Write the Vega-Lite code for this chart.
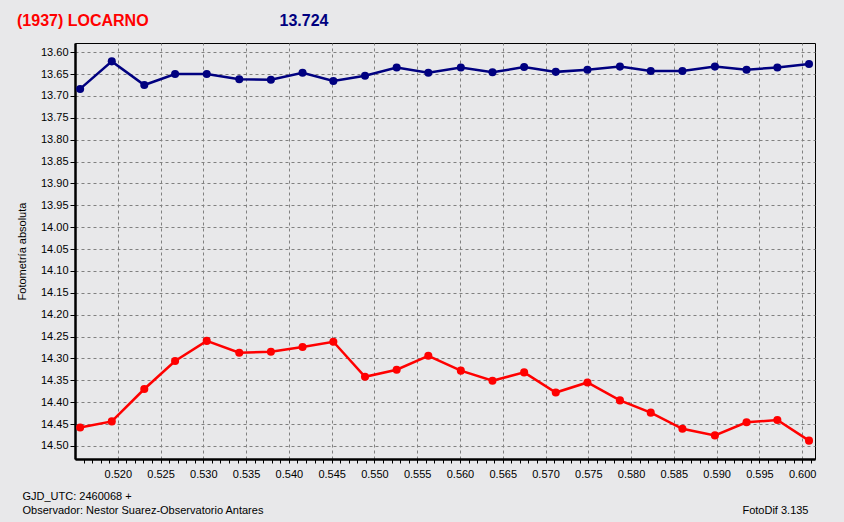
{
  "$schema": "https://vega.github.io/schema/vega-lite/v6.json",
  "autosize": "none",
  "width": 740,
  "height": 416,
  "padding": {"left": 75, "top": 43, "right": 29, "bottom": 63},
  "background": "#e8e8ea",
  "config": {
    "view": {"stroke": "#000000", "strokeWidth": 1, "fill": "#e8e8ea"},
    "axis": {"labelFont": "Liberation Sans", "titleFont": "Liberation Sans", "labelColor": "#000000", "titleColor": "#000000"}
  },
  "title": {
    "text": "(1937) LOCARNO",
    "color": "#ff0000",
    "font": "Liberation Sans",
    "fontSize": 16,
    "fontWeight": "bold",
    "anchor": "start",
    "frame": "group",
    "orient": "top",
    "dx": -58,
    "dy": 34,
    "offset": 4,
    "baseline": "alphabetic"
  },
  "data": {
    "values": [
      {"jd": 0.5156, "mag": 13.684, "serie": "A"},
      {"jd": 0.5193, "mag": 13.621, "serie": "A"},
      {"jd": 0.5231, "mag": 13.675, "serie": "A"},
      {"jd": 0.5267, "mag": 13.650, "serie": "A"},
      {"jd": 0.5304, "mag": 13.650, "serie": "A"},
      {"jd": 0.5342, "mag": 13.662, "serie": "A"},
      {"jd": 0.5379, "mag": 13.663, "serie": "A"},
      {"jd": 0.5416, "mag": 13.647, "serie": "A"},
      {"jd": 0.5452, "mag": 13.666, "serie": "A"},
      {"jd": 0.5489, "mag": 13.654, "serie": "A"},
      {"jd": 0.5526, "mag": 13.635, "serie": "A"},
      {"jd": 0.5563, "mag": 13.647, "serie": "A"},
      {"jd": 0.5601, "mag": 13.635, "serie": "A"},
      {"jd": 0.5638, "mag": 13.646, "serie": "A"},
      {"jd": 0.5675, "mag": 13.634, "serie": "A"},
      {"jd": 0.5712, "mag": 13.645, "serie": "A"},
      {"jd": 0.5749, "mag": 13.640, "serie": "A"},
      {"jd": 0.5787, "mag": 13.633, "serie": "A"},
      {"jd": 0.5823, "mag": 13.643, "serie": "A"},
      {"jd": 0.5860, "mag": 13.643, "serie": "A"},
      {"jd": 0.5898, "mag": 13.633, "serie": "A"},
      {"jd": 0.5935, "mag": 13.640, "serie": "A"},
      {"jd": 0.5971, "mag": 13.635, "serie": "A"},
      {"jd": 0.6008, "mag": 13.627, "serie": "A"},
      {"jd": 0.5156, "mag": 14.458, "serie": "B"},
      {"jd": 0.5193, "mag": 14.444, "serie": "B"},
      {"jd": 0.5231, "mag": 14.370, "serie": "B"},
      {"jd": 0.5267, "mag": 14.306, "serie": "B"},
      {"jd": 0.5304, "mag": 14.260, "serie": "B"},
      {"jd": 0.5342, "mag": 14.287, "serie": "B"},
      {"jd": 0.5379, "mag": 14.285, "serie": "B"},
      {"jd": 0.5416, "mag": 14.274, "serie": "B"},
      {"jd": 0.5452, "mag": 14.262, "serie": "B"},
      {"jd": 0.5489, "mag": 14.342, "serie": "B"},
      {"jd": 0.5526, "mag": 14.326, "serie": "B"},
      {"jd": 0.5563, "mag": 14.294, "serie": "B"},
      {"jd": 0.5601, "mag": 14.328, "serie": "B"},
      {"jd": 0.5638, "mag": 14.351, "serie": "B"},
      {"jd": 0.5675, "mag": 14.332, "serie": "B"},
      {"jd": 0.5712, "mag": 14.378, "serie": "B"},
      {"jd": 0.5749, "mag": 14.355, "serie": "B"},
      {"jd": 0.5787, "mag": 14.396, "serie": "B"},
      {"jd": 0.5823, "mag": 14.424, "serie": "B"},
      {"jd": 0.5860, "mag": 14.461, "serie": "B"},
      {"jd": 0.5898, "mag": 14.476, "serie": "B"},
      {"jd": 0.5935, "mag": 14.446, "serie": "B"},
      {"jd": 0.5971, "mag": 14.441, "serie": "B"},
      {"jd": 0.6008, "mag": 14.488, "serie": "B"}
    ]
  },
  "layer": [
    {
      "mark": {"type": "line", "strokeWidth": 2.5, "clip": true},
      "encoding": {
        "x": {
          "field": "jd", "type": "quantitative",
          "scale": {"domain": [0.515, 0.6015], "nice": false, "zero": false},
          "axis": {
            "orient": "bottom",
            "values": [0.516,0.517,0.518,0.519,0.52,0.521,0.522,0.523,0.524,0.525,0.526,0.527,0.528,0.529,0.53,0.531,0.532,0.533,0.534,0.535,0.536,0.537,0.538,0.539,0.54,0.541,0.542,0.543,0.544,0.545,0.546,0.547,0.548,0.549,0.55,0.551,0.552,0.553,0.554,0.555,0.556,0.557,0.558,0.559,0.56,0.561,0.562,0.563,0.564,0.565,0.566,0.567,0.568,0.569,0.57,0.571,0.572,0.573,0.574,0.575,0.576,0.577,0.578,0.579,0.58,0.581,0.582,0.583,0.584,0.585,0.586,0.587,0.588,0.589,0.59,0.591,0.592,0.593,0.594,0.595,0.596,0.597,0.598,0.599,0.6,0.601],
            "labelExpr": "round(datum.value*1000) % 5 === 0 ? format(datum.value, '.3f') : ''",
            "labelFontSize": 11,
            "labelPadding": 5,
            "labelFlush": false,
            "labelOverlap": false,
            "tickSize": 4,
            "tickColor": "#000000",
            "domainColor": "#000000",
            "domainWidth": 2.5,
            "grid": true,
            "gridColor": "#808080",
            "gridDash": [3, 3],
            "gridWidth": 1,
            "gridOpacity": {"condition": {"test": "round(datum.value*1000) % 5 === 0", "value": 1}, "value": 0},
            "title": ["GJD_UTC: 2460068 +", "Observador: Nestor Suarez-Observatorio Antares"],
            "titleFontSize": 11,
            "titleFontWeight": "normal",
            "titleAlign": "left",
            "titleAnchor": "start",
            "titleBaseline": "alphabetic",
            "titleLineHeight": 14,
            "titleX": -53,
            "titleY": 40
          }
        },
        "y": {
          "field": "mag", "type": "quantitative",
          "scale": {"domain": [13.579, 14.53], "reverse": true, "nice": false, "zero": false},
          "axis": {
            "orient": "left",
            "values": [13.6,13.65,13.7,13.75,13.8,13.85,13.9,13.95,14.0,14.05,14.1,14.15,14.2,14.25,14.3,14.35,14.4,14.45,14.5],
            "format": ".2f",
            "labelFontSize": 11,
            "labelPadding": 2,
            "tickSize": 5,
            "tickColor": "#000000",
            "domainColor": "#000000",
            "domainWidth": 2.5,
            "grid": true,
            "gridColor": "#808080",
            "gridDash": [3, 3],
            "gridWidth": 1,
            "title": "Fotometría absoluta",
            "titleFontSize": 11,
            "titleFontWeight": "normal",
            "titleAngle": -90,
            "titleAlign": "center",
            "titleBaseline": "middle",
            "titleX": -53,
            "titleY": 208
          }
        },
        "color": {
          "field": "serie", "type": "nominal",
          "scale": {"domain": ["A", "B"], "range": ["#000080", "#ff0000"]},
          "legend": null
        }
      }
    },
    {
      "mark": {"type": "circle", "size": 65, "opacity": 1, "clip": true},
      "encoding": {
        "x": {
          "field": "jd", "type": "quantitative",
          "axis": {
            "orient": "top",
            "labels": false, "ticks": false, "domain": false, "grid": false,
            "title": "FotoDif 3.135",
            "titleFontSize": 11,
            "titleFontWeight": "normal",
            "titleAlign": "right",
            "titleBaseline": "alphabetic",
            "titleX": 733,
            "titleY": 470
          }
        },
        "y": {
          "field": "mag", "type": "quantitative",
          "axis": {
            "orient": "right",
            "labels": false, "ticks": false, "domain": false, "grid": false,
            "title": "13.724",
            "titleColor": "#000080",
            "titleFontSize": 16,
            "titleFontWeight": "bold",
            "titleAngle": 0,
            "titleAlign": "left",
            "titleBaseline": "alphabetic",
            "titleX": -536,
            "titleY": -18
          }
        },
        "color": {"field": "serie", "type": "nominal", "legend": null}
      }
    }
  ],
  "resolve": {"axis": {"x": "independent", "y": "independent"}}
}
